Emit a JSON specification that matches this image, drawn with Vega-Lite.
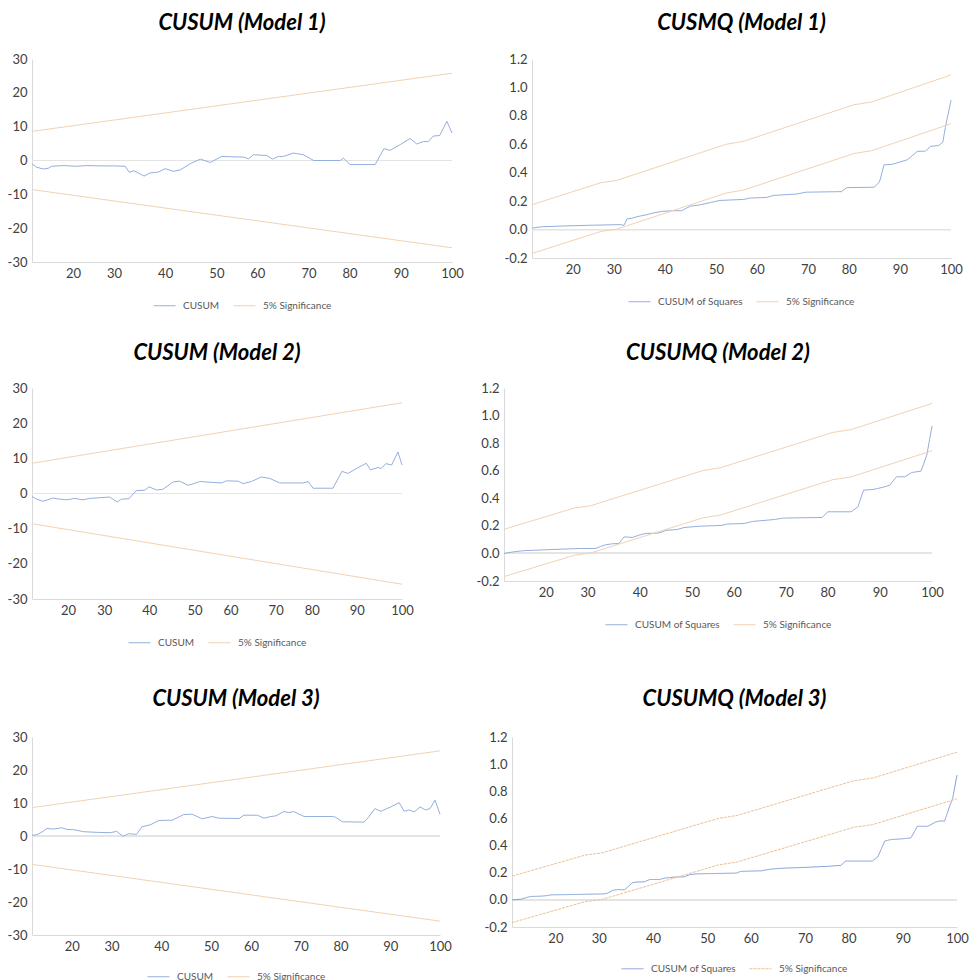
{
"$schema": "https://vega.github.io/schema/vega-lite/v6.json",
"padding": {"left": 5, "top": 12, "right": 0, "bottom": 0},
"background": "white",
"datasets": {
"c1": [
{"obs":0,"value":-1.0,"series":"CUSUM","line":"stat"},{"obs":0.9,"value":-2.0,"series":"CUSUM","line":"stat"},{"obs":2.2,"value":-2.5,"series":"CUSUM","line":"stat"},{"obs":3.2,"value":-2.3,"series":"CUSUM","line":"stat"},{"obs":3.8,"value":-1.7,"series":"CUSUM","line":"stat"},{"obs":6.1,"value":-1.5,"series":"CUSUM","line":"stat"},{"obs":8.7,"value":-1.7,"series":"CUSUM","line":"stat"},{"obs":10.7,"value":-1.5,"series":"CUSUM","line":"stat"},{"obs":13.3,"value":-1.6,"series":"CUSUM","line":"stat"},{"obs":15.9,"value":-1.6,"series":"CUSUM","line":"stat"},{"obs":18.2,"value":-1.7,"series":"CUSUM","line":"stat"},{"obs":19.0,"value":-3.5,"series":"CUSUM","line":"stat"},{"obs":19.9,"value":-3.0,"series":"CUSUM","line":"stat"},{"obs":21.9,"value":-4.6,"series":"CUSUM","line":"stat"},{"obs":23.0,"value":-3.7,"series":"CUSUM","line":"stat"},{"obs":24.7,"value":-3.4,"series":"CUSUM","line":"stat"},{"obs":26.0,"value":-2.4,"series":"CUSUM","line":"stat"},{"obs":27.6,"value":-3.2,"series":"CUSUM","line":"stat"},{"obs":28.9,"value":-2.8,"series":"CUSUM","line":"stat"},{"obs":31.2,"value":-0.7,"series":"CUSUM","line":"stat"},{"obs":32.9,"value":0.4,"series":"CUSUM","line":"stat"},{"obs":34.8,"value":-0.6,"series":"CUSUM","line":"stat"},{"obs":37.0,"value":1.2,"series":"CUSUM","line":"stat"},{"obs":41.3,"value":1.0,"series":"CUSUM","line":"stat"},{"obs":42.3,"value":0.5,"series":"CUSUM","line":"stat"},{"obs":43.2,"value":1.7,"series":"CUSUM","line":"stat"},{"obs":45.8,"value":1.5,"series":"CUSUM","line":"stat"},{"obs":47.0,"value":0.4,"series":"CUSUM","line":"stat"},{"obs":48.1,"value":1.2,"series":"CUSUM","line":"stat"},{"obs":49.1,"value":1.2,"series":"CUSUM","line":"stat"},{"obs":51.0,"value":2.2,"series":"CUSUM","line":"stat"},{"obs":53.0,"value":1.7,"series":"CUSUM","line":"stat"},{"obs":55.0,"value":0.0,"series":"CUSUM","line":"stat"},{"obs":60.2,"value":0.0,"series":"CUSUM","line":"stat"},{"obs":60.8,"value":0.7,"series":"CUSUM","line":"stat"},{"obs":62.1,"value":-1.2,"series":"CUSUM","line":"stat"},{"obs":67.0,"value":-1.2,"series":"CUSUM","line":"stat"},{"obs":68.7,"value":3.5,"series":"CUSUM","line":"stat"},{"obs":69.9,"value":3.0,"series":"CUSUM","line":"stat"},{"obs":71.9,"value":4.7,"series":"CUSUM","line":"stat"},{"obs":73.8,"value":6.5,"series":"CUSUM","line":"stat"},{"obs":75.1,"value":4.9,"series":"CUSUM","line":"stat"},{"obs":76.4,"value":5.6,"series":"CUSUM","line":"stat"},{"obs":77.4,"value":5.6,"series":"CUSUM","line":"stat"},{"obs":78.3,"value":7.2,"series":"CUSUM","line":"stat"},{"obs":79.6,"value":7.4,"series":"CUSUM","line":"stat"},{"obs":81.0,"value":11.6,"series":"CUSUM","line":"stat"},{"obs":82,"value":8.1,"series":"CUSUM","line":"stat"},
{"obs":0,"value":8.6,"series":"5% Significance","line":"upper"},{"obs":82,"value":25.8,"series":"5% Significance","line":"upper"},
{"obs":0,"value":-8.6,"series":"5% Significance","line":"lower"},{"obs":82,"value":-25.8,"series":"5% Significance","line":"lower"}
],
"c2": [
{"obs":0,"value":-0.85,"series":"CUSUM","line":"stat"},{"obs":1.0,"value":-1.6,"series":"CUSUM","line":"stat"},{"obs":2.4,"value":-2.2,"series":"CUSUM","line":"stat"},{"obs":4.7,"value":-1.3,"series":"CUSUM","line":"stat"},{"obs":6.1,"value":-1.6,"series":"CUSUM","line":"stat"},{"obs":7.6,"value":-1.8,"series":"CUSUM","line":"stat"},{"obs":9.5,"value":-1.4,"series":"CUSUM","line":"stat"},{"obs":11.3,"value":-1.8,"series":"CUSUM","line":"stat"},{"obs":12.8,"value":-1.4,"series":"CUSUM","line":"stat"},{"obs":17.2,"value":-1.0,"series":"CUSUM","line":"stat"},{"obs":18.9,"value":-2.4,"series":"CUSUM","line":"stat"},{"obs":19.8,"value":-1.6,"series":"CUSUM","line":"stat"},{"obs":21.5,"value":-1.5,"series":"CUSUM","line":"stat"},{"obs":23.1,"value":0.8,"series":"CUSUM","line":"stat"},{"obs":25.0,"value":0.95,"series":"CUSUM","line":"stat"},{"obs":25.9,"value":1.9,"series":"CUSUM","line":"stat"},{"obs":27.6,"value":1.0,"series":"CUSUM","line":"stat"},{"obs":29.0,"value":1.2,"series":"CUSUM","line":"stat"},{"obs":31.3,"value":3.3,"series":"CUSUM","line":"stat"},{"obs":32.7,"value":3.5,"series":"CUSUM","line":"stat"},{"obs":34.6,"value":2.3,"series":"CUSUM","line":"stat"},{"obs":37.2,"value":3.4,"series":"CUSUM","line":"stat"},{"obs":42.0,"value":3.0,"series":"CUSUM","line":"stat"},{"obs":43.1,"value":3.6,"series":"CUSUM","line":"stat"},{"obs":45.7,"value":3.5,"series":"CUSUM","line":"stat"},{"obs":46.8,"value":2.8,"series":"CUSUM","line":"stat"},{"obs":48.6,"value":3.4,"series":"CUSUM","line":"stat"},{"obs":50.8,"value":4.7,"series":"CUSUM","line":"stat"},{"obs":52.7,"value":4.3,"series":"CUSUM","line":"stat"},{"obs":54.9,"value":3.0,"series":"CUSUM","line":"stat"},{"obs":60.1,"value":3.0,"series":"CUSUM","line":"stat"},{"obs":61.2,"value":3.4,"series":"CUSUM","line":"stat"},{"obs":62.3,"value":1.5,"series":"CUSUM","line":"stat"},{"obs":66.7,"value":1.5,"series":"CUSUM","line":"stat"},{"obs":68.7,"value":6.3,"series":"CUSUM","line":"stat"},{"obs":70.0,"value":5.7,"series":"CUSUM","line":"stat"},{"obs":72.3,"value":7.4,"series":"CUSUM","line":"stat"},{"obs":74.1,"value":8.6,"series":"CUSUM","line":"stat"},{"obs":75.0,"value":6.7,"series":"CUSUM","line":"stat"},{"obs":76.7,"value":7.4,"series":"CUSUM","line":"stat"},{"obs":77.4,"value":7.1,"series":"CUSUM","line":"stat"},{"obs":78.4,"value":8.5,"series":"CUSUM","line":"stat"},{"obs":79.7,"value":8.1,"series":"CUSUM","line":"stat"},{"obs":81.1,"value":11.8,"series":"CUSUM","line":"stat"},{"obs":82,"value":8.1,"series":"CUSUM","line":"stat"},
{"obs":0,"value":8.6,"series":"5% Significance","line":"upper"},{"obs":82,"value":25.8,"series":"5% Significance","line":"upper"},
{"obs":0,"value":-8.6,"series":"5% Significance","line":"lower"},{"obs":82,"value":-25.8,"series":"5% Significance","line":"lower"}
],
"c3": [
{"obs":0,"value":0.2,"series":"CUSUM","line":"stat"},{"obs":1.0,"value":0.4,"series":"CUSUM","line":"stat"},{"obs":2.0,"value":1.2,"series":"CUSUM","line":"stat"},{"obs":3.0,"value":2.3,"series":"CUSUM","line":"stat"},{"obs":4.3,"value":2.1,"series":"CUSUM","line":"stat"},{"obs":6.0,"value":2.5,"series":"CUSUM","line":"stat"},{"obs":7.0,"value":2.0,"series":"CUSUM","line":"stat"},{"obs":8.4,"value":1.9,"series":"CUSUM","line":"stat"},{"obs":10.4,"value":1.3,"series":"CUSUM","line":"stat"},{"obs":13.1,"value":1.1,"series":"CUSUM","line":"stat"},{"obs":15.7,"value":1.0,"series":"CUSUM","line":"stat"},{"obs":17.0,"value":1.4,"series":"CUSUM","line":"stat"},{"obs":18.3,"value":-0.1,"series":"CUSUM","line":"stat"},{"obs":19.4,"value":0.7,"series":"CUSUM","line":"stat"},{"obs":21.0,"value":0.5,"series":"CUSUM","line":"stat"},{"obs":22.1,"value":2.8,"series":"CUSUM","line":"stat"},{"obs":23.8,"value":3.4,"series":"CUSUM","line":"stat"},{"obs":25.5,"value":4.7,"series":"CUSUM","line":"stat"},{"obs":28.2,"value":4.8,"series":"CUSUM","line":"stat"},{"obs":30.5,"value":6.5,"series":"CUSUM","line":"stat"},{"obs":32.2,"value":6.6,"series":"CUSUM","line":"stat"},{"obs":34.2,"value":5.2,"series":"CUSUM","line":"stat"},{"obs":36.2,"value":5.9,"series":"CUSUM","line":"stat"},{"obs":37.5,"value":5.4,"series":"CUSUM","line":"stat"},{"obs":41.6,"value":5.3,"series":"CUSUM","line":"stat"},{"obs":42.6,"value":6.3,"series":"CUSUM","line":"stat"},{"obs":45.3,"value":6.3,"series":"CUSUM","line":"stat"},{"obs":46.6,"value":5.4,"series":"CUSUM","line":"stat"},{"obs":48.0,"value":5.9,"series":"CUSUM","line":"stat"},{"obs":49.0,"value":6.1,"series":"CUSUM","line":"stat"},{"obs":50.6,"value":7.4,"series":"CUSUM","line":"stat"},{"obs":51.6,"value":7.1,"series":"CUSUM","line":"stat"},{"obs":52.6,"value":7.4,"series":"CUSUM","line":"stat"},{"obs":54.7,"value":5.9,"series":"CUSUM","line":"stat"},{"obs":60.4,"value":5.9,"series":"CUSUM","line":"stat"},{"obs":61.0,"value":5.7,"series":"CUSUM","line":"stat"},{"obs":62.4,"value":4.3,"series":"CUSUM","line":"stat"},{"obs":66.7,"value":4.2,"series":"CUSUM","line":"stat"},{"obs":67.7,"value":5.8,"series":"CUSUM","line":"stat"},{"obs":68.9,"value":8.3,"series":"CUSUM","line":"stat"},{"obs":70.1,"value":7.5,"series":"CUSUM","line":"stat"},{"obs":72.1,"value":8.8,"series":"CUSUM","line":"stat"},{"obs":73.8,"value":10.1,"series":"CUSUM","line":"stat"},{"obs":74.8,"value":7.5,"series":"CUSUM","line":"stat"},{"obs":75.8,"value":7.9,"series":"CUSUM","line":"stat"},{"obs":76.8,"value":7.3,"series":"CUSUM","line":"stat"},{"obs":78.0,"value":8.8,"series":"CUSUM","line":"stat"},{"obs":79.1,"value":7.9,"series":"CUSUM","line":"stat"},{"obs":80.0,"value":8.3,"series":"CUSUM","line":"stat"},{"obs":81.0,"value":10.9,"series":"CUSUM","line":"stat"},{"obs":82,"value":6.6,"series":"CUSUM","line":"stat"},
{"obs":0,"value":8.6,"series":"5% Significance","line":"upper"},{"obs":82,"value":25.8,"series":"5% Significance","line":"upper"},
{"obs":0,"value":-8.6,"series":"5% Significance","line":"lower"},{"obs":82,"value":-25.8,"series":"5% Significance","line":"lower"}
],
"q1": [
{"obs":0,"value":0.01,"series":"CUSUM of Squares","line":"stat"},{"obs":2,"value":0.02,"series":"CUSUM of Squares","line":"stat"},{"obs":6,"value":0.025,"series":"CUSUM of Squares","line":"stat"},{"obs":11,"value":0.03,"series":"CUSUM of Squares","line":"stat"},{"obs":17.3,"value":0.035,"series":"CUSUM of Squares","line":"stat"},{"obs":18,"value":0.03,"series":"CUSUM of Squares","line":"stat"},{"obs":18.6,"value":0.075,"series":"CUSUM of Squares","line":"stat"},{"obs":19.6,"value":0.08,"series":"CUSUM of Squares","line":"stat"},{"obs":20.5,"value":0.09,"series":"CUSUM of Squares","line":"stat"},{"obs":22.5,"value":0.105,"series":"CUSUM of Squares","line":"stat"},{"obs":23.8,"value":0.117,"series":"CUSUM of Squares","line":"stat"},{"obs":25.4,"value":0.128,"series":"CUSUM of Squares","line":"stat"},{"obs":27.4,"value":0.132,"series":"CUSUM of Squares","line":"stat"},{"obs":29.3,"value":0.133,"series":"CUSUM of Squares","line":"stat"},{"obs":31.0,"value":0.165,"series":"CUSUM of Squares","line":"stat"},{"obs":32.6,"value":0.172,"series":"CUSUM of Squares","line":"stat"},{"obs":34.9,"value":0.19,"series":"CUSUM of Squares","line":"stat"},{"obs":36.8,"value":0.205,"series":"CUSUM of Squares","line":"stat"},{"obs":41.4,"value":0.212,"series":"CUSUM of Squares","line":"stat"},{"obs":42.7,"value":0.222,"series":"CUSUM of Squares","line":"stat"},{"obs":45.9,"value":0.226,"series":"CUSUM of Squares","line":"stat"},{"obs":47.2,"value":0.24,"series":"CUSUM of Squares","line":"stat"},{"obs":51.8,"value":0.25,"series":"CUSUM of Squares","line":"stat"},{"obs":53.6,"value":0.263,"series":"CUSUM of Squares","line":"stat"},{"obs":60.6,"value":0.267,"series":"CUSUM of Squares","line":"stat"},{"obs":61.6,"value":0.295,"series":"CUSUM of Squares","line":"stat"},{"obs":67,"value":0.298,"series":"CUSUM of Squares","line":"stat"},{"obs":68,"value":0.335,"series":"CUSUM of Squares","line":"stat"},{"obs":68.9,"value":0.455,"series":"CUSUM of Squares","line":"stat"},{"obs":70.6,"value":0.46,"series":"CUSUM of Squares","line":"stat"},{"obs":72,"value":0.475,"series":"CUSUM of Squares","line":"stat"},{"obs":73.5,"value":0.492,"series":"CUSUM of Squares","line":"stat"},{"obs":74.5,"value":0.522,"series":"CUSUM of Squares","line":"stat"},{"obs":75.4,"value":0.55,"series":"CUSUM of Squares","line":"stat"},{"obs":77,"value":0.552,"series":"CUSUM of Squares","line":"stat"},{"obs":78,"value":0.585,"series":"CUSUM of Squares","line":"stat"},{"obs":79.6,"value":0.592,"series":"CUSUM of Squares","line":"stat"},{"obs":80.4,"value":0.615,"series":"CUSUM of Squares","line":"stat"},{"obs":80.9,"value":0.72,"series":"CUSUM of Squares","line":"stat"},{"obs":82,"value":0.91,"series":"CUSUM of Squares","line":"stat"},
{"obs":0,"value":0.175,"series":"5% Significance","line":"upper"},{"obs":13.5,"value":0.33,"series":"5% Significance","line":"upper"},{"obs":16.5,"value":0.345,"series":"5% Significance","line":"upper"},{"obs":38,"value":0.6,"series":"5% Significance","line":"upper"},{"obs":41.5,"value":0.622,"series":"5% Significance","line":"upper"},{"obs":63,"value":0.878,"series":"5% Significance","line":"upper"},{"obs":66.5,"value":0.898,"series":"5% Significance","line":"upper"},{"obs":82,"value":1.088,"series":"5% Significance","line":"upper"},
{"obs":0,"value":-0.168,"series":"5% Significance","line":"lower"},{"obs":13.5,"value":-0.013,"series":"5% Significance","line":"lower"},{"obs":16.5,"value":0.002,"series":"5% Significance","line":"lower"},{"obs":38,"value":0.257,"series":"5% Significance","line":"lower"},{"obs":41.5,"value":0.279,"series":"5% Significance","line":"lower"},{"obs":63,"value":0.535,"series":"5% Significance","line":"lower"},{"obs":66.5,"value":0.555,"series":"5% Significance","line":"lower"},{"obs":82,"value":0.745,"series":"5% Significance","line":"lower"}
],
"q2": [
{"obs":0,"value":0.0,"series":"CUSUM of Squares","line":"stat"},{"obs":1.9,"value":0.012,"series":"CUSUM of Squares","line":"stat"},{"obs":3.8,"value":0.02,"series":"CUSUM of Squares","line":"stat"},{"obs":8.3,"value":0.027,"series":"CUSUM of Squares","line":"stat"},{"obs":14.7,"value":0.036,"series":"CUSUM of Squares","line":"stat"},{"obs":17.6,"value":0.036,"series":"CUSUM of Squares","line":"stat"},{"obs":18.5,"value":0.05,"series":"CUSUM of Squares","line":"stat"},{"obs":19.5,"value":0.063,"series":"CUSUM of Squares","line":"stat"},{"obs":20.8,"value":0.07,"series":"CUSUM of Squares","line":"stat"},{"obs":22.0,"value":0.072,"series":"CUSUM of Squares","line":"stat"},{"obs":23.0,"value":0.12,"series":"CUSUM of Squares","line":"stat"},{"obs":24.6,"value":0.116,"series":"CUSUM of Squares","line":"stat"},{"obs":25.9,"value":0.133,"series":"CUSUM of Squares","line":"stat"},{"obs":27.2,"value":0.145,"series":"CUSUM of Squares","line":"stat"},{"obs":29.4,"value":0.147,"series":"CUSUM of Squares","line":"stat"},{"obs":30.4,"value":0.157,"series":"CUSUM of Squares","line":"stat"},{"obs":31.0,"value":0.167,"series":"CUSUM of Squares","line":"stat"},{"obs":33.2,"value":0.174,"series":"CUSUM of Squares","line":"stat"},{"obs":34.5,"value":0.188,"series":"CUSUM of Squares","line":"stat"},{"obs":37.7,"value":0.198,"series":"CUSUM of Squares","line":"stat"},{"obs":41.6,"value":0.203,"series":"CUSUM of Squares","line":"stat"},{"obs":42.8,"value":0.213,"series":"CUSUM of Squares","line":"stat"},{"obs":46.0,"value":0.217,"series":"CUSUM of Squares","line":"stat"},{"obs":47.6,"value":0.232,"series":"CUSUM of Squares","line":"stat"},{"obs":51.8,"value":0.246,"series":"CUSUM of Squares","line":"stat"},{"obs":53.4,"value":0.256,"series":"CUSUM of Squares","line":"stat"},{"obs":55.9,"value":0.258,"series":"CUSUM of Squares","line":"stat"},{"obs":61.0,"value":0.261,"series":"CUSUM of Squares","line":"stat"},{"obs":62.0,"value":0.302,"series":"CUSUM of Squares","line":"stat"},{"obs":66.5,"value":0.302,"series":"CUSUM of Squares","line":"stat"},{"obs":67.8,"value":0.338,"series":"CUSUM of Squares","line":"stat"},{"obs":68.9,"value":0.459,"series":"CUSUM of Squares","line":"stat"},{"obs":70.7,"value":0.464,"series":"CUSUM of Squares","line":"stat"},{"obs":71.6,"value":0.471,"series":"CUSUM of Squares","line":"stat"},{"obs":72.9,"value":0.483,"series":"CUSUM of Squares","line":"stat"},{"obs":73.9,"value":0.495,"series":"CUSUM of Squares","line":"stat"},{"obs":75.2,"value":0.556,"series":"CUSUM of Squares","line":"stat"},{"obs":76.8,"value":0.556,"series":"CUSUM of Squares","line":"stat"},{"obs":78.1,"value":0.587,"series":"CUSUM of Squares","line":"stat"},{"obs":79.9,"value":0.597,"series":"CUSUM of Squares","line":"stat"},{"obs":81.0,"value":0.713,"series":"CUSUM of Squares","line":"stat"},{"obs":82,"value":0.923,"series":"CUSUM of Squares","line":"stat"},
{"obs":0,"value":0.175,"series":"5% Significance","line":"upper"},{"obs":13.5,"value":0.33,"series":"5% Significance","line":"upper"},{"obs":16.5,"value":0.345,"series":"5% Significance","line":"upper"},{"obs":38,"value":0.6,"series":"5% Significance","line":"upper"},{"obs":41.5,"value":0.622,"series":"5% Significance","line":"upper"},{"obs":63,"value":0.878,"series":"5% Significance","line":"upper"},{"obs":66.5,"value":0.898,"series":"5% Significance","line":"upper"},{"obs":82,"value":1.088,"series":"5% Significance","line":"upper"},
{"obs":0,"value":-0.168,"series":"5% Significance","line":"lower"},{"obs":13.5,"value":-0.013,"series":"5% Significance","line":"lower"},{"obs":16.5,"value":0.002,"series":"5% Significance","line":"lower"},{"obs":38,"value":0.257,"series":"5% Significance","line":"lower"},{"obs":41.5,"value":0.279,"series":"5% Significance","line":"lower"},{"obs":63,"value":0.535,"series":"5% Significance","line":"lower"},{"obs":66.5,"value":0.555,"series":"5% Significance","line":"lower"},{"obs":82,"value":0.745,"series":"5% Significance","line":"lower"}
],
"q3": [
{"obs":0,"value":0.0,"series":"CUSUM of Squares","line":"stat"},{"obs":1.7,"value":0.005,"series":"CUSUM of Squares","line":"stat"},{"obs":2.9,"value":0.02,"series":"CUSUM of Squares","line":"stat"},{"obs":3.5,"value":0.025,"series":"CUSUM of Squares","line":"stat"},{"obs":5.3,"value":0.027,"series":"CUSUM of Squares","line":"stat"},{"obs":6.6,"value":0.032,"series":"CUSUM of Squares","line":"stat"},{"obs":7.2,"value":0.037,"series":"CUSUM of Squares","line":"stat"},{"obs":12.1,"value":0.04,"series":"CUSUM of Squares","line":"stat"},{"obs":17.0,"value":0.044,"series":"CUSUM of Squares","line":"stat"},{"obs":17.6,"value":0.049,"series":"CUSUM of Squares","line":"stat"},{"obs":18.6,"value":0.071,"series":"CUSUM of Squares","line":"stat"},{"obs":19.5,"value":0.076,"series":"CUSUM of Squares","line":"stat"},{"obs":20.7,"value":0.074,"series":"CUSUM of Squares","line":"stat"},{"obs":21.3,"value":0.094,"series":"CUSUM of Squares","line":"stat"},{"obs":22.2,"value":0.126,"series":"CUSUM of Squares","line":"stat"},{"obs":22.9,"value":0.131,"series":"CUSUM of Squares","line":"stat"},{"obs":24.4,"value":0.133,"series":"CUSUM of Squares","line":"stat"},{"obs":25.4,"value":0.15,"series":"CUSUM of Squares","line":"stat"},{"obs":27.2,"value":0.15,"series":"CUSUM of Squares","line":"stat"},{"obs":28.1,"value":0.16,"series":"CUSUM of Squares","line":"stat"},{"obs":30.0,"value":0.168,"series":"CUSUM of Squares","line":"stat"},{"obs":31.8,"value":0.17,"series":"CUSUM of Squares","line":"stat"},{"obs":32.8,"value":0.187,"series":"CUSUM of Squares","line":"stat"},{"obs":34.3,"value":0.192,"series":"CUSUM of Squares","line":"stat"},{"obs":41.3,"value":0.197,"series":"CUSUM of Squares","line":"stat"},{"obs":42.2,"value":0.21,"series":"CUSUM of Squares","line":"stat"},{"obs":45.9,"value":0.214,"series":"CUSUM of Squares","line":"stat"},{"obs":47.8,"value":0.227,"series":"CUSUM of Squares","line":"stat"},{"obs":50.2,"value":0.234,"series":"CUSUM of Squares","line":"stat"},{"obs":52.6,"value":0.237,"series":"CUSUM of Squares","line":"stat"},{"obs":58.2,"value":0.247,"series":"CUSUM of Squares","line":"stat"},{"obs":60.6,"value":0.254,"series":"CUSUM of Squares","line":"stat"},{"obs":61.5,"value":0.286,"series":"CUSUM of Squares","line":"stat"},{"obs":66.4,"value":0.286,"series":"CUSUM of Squares","line":"stat"},{"obs":67.4,"value":0.316,"series":"CUSUM of Squares","line":"stat"},{"obs":68.7,"value":0.434,"series":"CUSUM of Squares","line":"stat"},{"obs":69.8,"value":0.444,"series":"CUSUM of Squares","line":"stat"},{"obs":71.7,"value":0.449,"series":"CUSUM of Squares","line":"stat"},{"obs":73.5,"value":0.456,"series":"CUSUM of Squares","line":"stat"},{"obs":74.7,"value":0.542,"series":"CUSUM of Squares","line":"stat"},{"obs":76.6,"value":0.542,"series":"CUSUM of Squares","line":"stat"},{"obs":78.1,"value":0.574,"series":"CUSUM of Squares","line":"stat"},{"obs":79.0,"value":0.582,"series":"CUSUM of Squares","line":"stat"},{"obs":79.7,"value":0.58,"series":"CUSUM of Squares","line":"stat"},{"obs":80.6,"value":0.685,"series":"CUSUM of Squares","line":"stat"},{"obs":81.2,"value":0.747,"series":"CUSUM of Squares","line":"stat"},{"obs":82,"value":0.92,"series":"CUSUM of Squares","line":"stat"},
{"obs":0,"value":0.175,"series":"5% Significance","line":"upper"},{"obs":13.5,"value":0.33,"series":"5% Significance","line":"upper"},{"obs":16.5,"value":0.345,"series":"5% Significance","line":"upper"},{"obs":38,"value":0.6,"series":"5% Significance","line":"upper"},{"obs":41.5,"value":0.622,"series":"5% Significance","line":"upper"},{"obs":63,"value":0.878,"series":"5% Significance","line":"upper"},{"obs":66.5,"value":0.898,"series":"5% Significance","line":"upper"},{"obs":82,"value":1.088,"series":"5% Significance","line":"upper"},
{"obs":0,"value":-0.168,"series":"5% Significance","line":"lower"},{"obs":13.5,"value":-0.013,"series":"5% Significance","line":"lower"},{"obs":16.5,"value":0.002,"series":"5% Significance","line":"lower"},{"obs":38,"value":0.257,"series":"5% Significance","line":"lower"},{"obs":41.5,"value":0.279,"series":"5% Significance","line":"lower"},{"obs":63,"value":0.535,"series":"5% Significance","line":"lower"},{"obs":66.5,"value":0.555,"series":"5% Significance","line":"lower"},{"obs":82,"value":0.745,"series":"5% Significance","line":"lower"}
]
},
"vconcat": [
{"hconcat": [
{"title": {"text": "CUSUM (Model 1)", "offset": 18}, "width": 420, "height": 203, "data": {"name": "c1"},
 "layer": [
  {"mark": {"type": "rule", "color": "#e4e4e4", "strokeWidth": 1}, "encoding": {"y": {"datum": 0, "type": "quantitative", "axis": {"title": null}}}},
  {"mark": {"type": "line", "strokeWidth": 1}, "encoding": {
   "x": {"field": "obs", "type": "quantitative", "scale": {"domain": [0, 82], "nice": false, "zero": false}, "axis": {"title": null, "values": [8,16,26,36,44,54,62,72,82], "tickCount": 20, "labelExpr": "[20,30,40,50,60,70,80,90,100][indexof([8,16,26,36,44,54,62,72,82], datum.value)]"}},
   "y": {"field": "value", "type": "quantitative", "scale": {"domain": [-30, 30], "nice": false}, "axis": {"title": null, "values": [-30,-20,-10,0,10,20,30], "tickCount": 20, "labelExpr": "'' + datum.value"}},
   "color": {"field": "series", "type": "nominal", "scale": {"domain": ["CUSUM", "5% Significance"], "range": ["#94afdd", "#f2d2b2"]}, "legend": {"title": null}},
   "detail": {"field": "line"}}}
 ]},
{"title": {"text": "CUSMQ (Model 1)", "offset": 18}, "width": 419, "height": 199, "data": {"name": "q1"},
 "layer": [
  {"mark": {"type": "rule", "color": "#e4e4e4", "strokeWidth": 1}, "encoding": {"y": {"datum": 0, "type": "quantitative", "axis": {"title": null}}}},
  {"mark": {"type": "line", "strokeWidth": 1}, "encoding": {
   "x": {"field": "obs", "type": "quantitative", "scale": {"domain": [0, 82], "nice": false, "zero": false}, "axis": {"title": null, "values": [8,16,26,36,44,54,62,72,82], "tickCount": 20, "labelExpr": "[20,30,40,50,60,70,80,90,100][indexof([8,16,26,36,44,54,62,72,82], datum.value)]"}},
   "y": {"field": "value", "type": "quantitative", "scale": {"domain": [-0.2, 1.2], "nice": false, "zero": false}, "axis": {"title": null, "values": [-0.2,0,0.2,0.4,0.6,0.8,1,1.2], "tickCount": 20, "labelExpr": "replace(format(datum.value, '.1f'), '\u2212', '-')"}},
   "color": {"field": "series", "type": "nominal", "scale": {"domain": ["CUSUM of Squares", "5% Significance"], "range": ["#94afdd", "#f2d2b2"]}, "legend": {"title": null}},
   "detail": {"field": "line"}}}
 ]}
], "spacing": 40, "resolve": {"scale": {"color": "independent", "x": "independent", "y": "independent"}}},
{"hconcat": [
{"title": {"text": "CUSUM (Model 2)", "offset": 17}, "width": 370, "height": 211, "data": {"name": "c2"},
 "layer": [
  {"mark": {"type": "rule", "color": "#e4e4e4", "strokeWidth": 1}, "encoding": {"y": {"datum": 0, "type": "quantitative", "axis": {"title": null}}}},
  {"mark": {"type": "line", "strokeWidth": 1}, "encoding": {
   "x": {"field": "obs", "type": "quantitative", "scale": {"domain": [0, 82], "nice": false, "zero": false}, "axis": {"title": null, "values": [8,16,26,36,44,54,62,72,82], "tickCount": 20, "labelExpr": "[20,30,40,50,60,70,80,90,100][indexof([8,16,26,36,44,54,62,72,82], datum.value)]"}},
   "y": {"field": "value", "type": "quantitative", "scale": {"domain": [-30, 30], "nice": false}, "axis": {"title": null, "values": [-30,-20,-10,0,10,20,30], "tickCount": 20, "labelExpr": "'' + datum.value"}},
   "color": {"field": "series", "type": "nominal", "scale": {"domain": ["CUSUM", "5% Significance"], "range": ["#94afdd", "#f2d2b2"]}, "legend": {"title": null, "padding": 9, "offset": 5}},
   "detail": {"field": "line"}}}
 ]},
{"title": {"text": "CUSUMQ (Model 2)", "offset": 17}, "width": 428, "height": 193, "data": {"name": "q2"},
 "layer": [
  {"mark": {"type": "rule", "color": "#e4e4e4", "strokeWidth": 1}, "encoding": {"y": {"datum": 0, "type": "quantitative", "axis": {"title": null}}}},
  {"mark": {"type": "line", "strokeWidth": 1}, "encoding": {
   "x": {"field": "obs", "type": "quantitative", "scale": {"domain": [0, 82], "nice": false, "zero": false}, "axis": {"title": null, "values": [8,16,26,36,44,54,62,72,82], "tickCount": 20, "labelExpr": "[20,30,40,50,60,70,80,90,100][indexof([8,16,26,36,44,54,62,72,82], datum.value)]"}},
   "y": {"field": "value", "type": "quantitative", "scale": {"domain": [-0.2, 1.2], "nice": false, "zero": false}, "axis": {"title": null, "values": [-0.2,0,0.2,0.4,0.6,0.8,1,1.2], "tickCount": 20, "labelExpr": "replace(format(datum.value, '.1f'), '\u2212', '-')"}},
   "color": {"field": "series", "type": "nominal", "scale": {"domain": ["CUSUM of Squares", "5% Significance"], "range": ["#94afdd", "#f2d2b2"]}, "legend": {"title": null}},
   "detail": {"field": "line"}}}
 ]}
], "spacing": 62, "resolve": {"scale": {"color": "independent", "x": "independent", "y": "independent"}}},
{"hconcat": [
{"title": {"text": "CUSUM (Model 3)", "offset": 20}, "width": 408, "height": 198, "data": {"name": "c3"},
 "layer": [
  {"mark": {"type": "rule", "color": "#e4e4e4", "strokeWidth": 1}, "encoding": {"y": {"datum": 0, "type": "quantitative", "axis": {"title": null}}}},
  {"mark": {"type": "line", "strokeWidth": 1}, "encoding": {
   "x": {"field": "obs", "type": "quantitative", "scale": {"domain": [0, 82], "nice": false, "zero": false}, "axis": {"title": null, "values": [8,16,26,36,44,54,62,72,82], "tickCount": 20, "labelExpr": "[20,30,40,50,60,70,80,90,100][indexof([8,16,26,36,44,54,62,72,82], datum.value)]"}},
   "y": {"field": "value", "type": "quantitative", "scale": {"domain": [-30, 30], "nice": false}, "axis": {"title": null, "values": [-30,-20,-10,0,10,20,30], "tickCount": 20, "labelExpr": "'' + datum.value"}},
   "color": {"field": "series", "type": "nominal", "scale": {"domain": ["CUSUM", "5% Significance"], "range": ["#94afdd", "#f2d2b2"]}, "legend": {"title": null, "offset": 12}},
   "detail": {"field": "line"}}}
 ]},
{"title": {"text": "CUSUMQ (Model 3)", "offset": 20}, "width": 445, "height": 190, "data": {"name": "q3"},
 "layer": [
  {"mark": {"type": "rule", "color": "#e4e4e4", "strokeWidth": 1}, "encoding": {"y": {"datum": 0, "type": "quantitative", "axis": {"title": null}}}},
  {"mark": {"type": "line", "strokeWidth": 1}, "encoding": {
   "x": {"field": "obs", "type": "quantitative", "scale": {"domain": [0, 82], "nice": false, "zero": false}, "axis": {"title": null, "values": [8,16,26,36,44,54,62,72,82], "tickCount": 20, "labelExpr": "[20,30,40,50,60,70,80,90,100][indexof([8,16,26,36,44,54,62,72,82], datum.value)]"}},
   "y": {"field": "value", "type": "quantitative", "scale": {"domain": [-0.2, 1.2], "nice": false, "zero": false}, "axis": {"title": null, "values": [-0.2,0,0.2,0.4,0.6,0.8,1,1.2], "tickCount": 20, "labelExpr": "replace(format(datum.value, '.1f'), '\u2212', '-')"}},
   "color": {"field": "series", "type": "nominal", "scale": {"domain": ["CUSUM of Squares", "5% Significance"], "range": ["#7f9fd6", "#eebf94"]}, "legend": {"title": null, "offset": 12}},
   "strokeDash": {"field": "series", "type": "nominal", "scale": {"domain": ["CUSUM of Squares", "5% Significance"], "range": [[1, 0], [3, 1]]}, "legend": {"title": null, "offset": 12}},
   "detail": {"field": "line"}}}
 ]}
], "spacing": 32, "resolve": {"scale": {"color": "independent", "strokeDash": "independent", "x": "independent", "y": "independent"}}}
],
"spacing": 31,
"resolve": {"scale": {"color": "independent", "strokeDash": "independent", "x": "independent", "y": "independent"}},
"config": {
 "view": {"stroke": null},
 "font": "Lato",
 "axis": {"grid": false, "ticks": false, "domainColor": "#dadada", "domainWidth": 1, "labelFont": "Lato", "labelFontSize": 13, "labelColor": "#404040", "labelPadding": 5, "labelOverlap": false, "labelFlush": false},
 "axisY": {"minExtent": 27, "maxExtent": 27},
 "legend": {"orient": "bottom", "direction": "horizontal", "symbolType": "stroke", "symbolSize": 484, "symbolStrokeWidth": 1, "labelFont": "Lato", "labelFontSize": 10, "labelColor": "#595959", "labelOffset": 7, "columnPadding": 11, "offset": 14, "layout": {"bottom": {"anchor": "middle"}}},
 "title": {"font": "Lato", "fontSize": 22, "fontWeight": "bold", "fontStyle": "italic", "color": "#000000", "frame": "group", "anchor": "middle"}
}
}
